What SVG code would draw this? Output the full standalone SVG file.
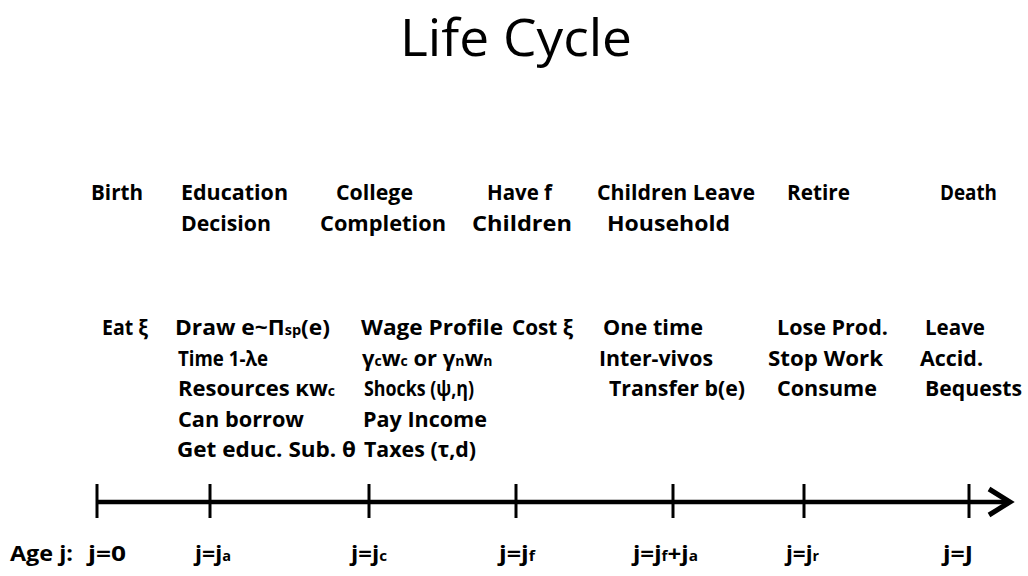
<svg xmlns="http://www.w3.org/2000/svg" width="1028" height="576" viewBox="0 0 1028 576">
<style>
text{font-family:"Open Sans","Liberation Sans",sans-serif;fill:#000}
.t{font-size:52px;font-weight:400}
.b{font-size:22px;font-weight:700}
.s{font-size:14px}
.ax{stroke:#000;fill:none;stroke-linecap:butt}
</style>
<rect width="1028" height="576" fill="#fff"/>
<g id="title"><text class="t" x="400" y="56" textLength="232" lengthAdjust="spacingAndGlyphs">Life Cycle</text></g>

<g id="connectors">
<line class="ax" x1="97" y1="502" x2="1008" y2="502" stroke-width="4.5"/>
<polyline class="ax" points="989,489 1010,502 989,515" stroke-width="5"/>
<g stroke-width="3" class="ax">
<line class="ax" x1="97" y1="484" x2="97" y2="518"/>
<line class="ax" x1="210" y1="484" x2="210" y2="518"/>
<line class="ax" x1="369" y1="484" x2="369" y2="518"/>
<line class="ax" x1="516" y1="484" x2="516" y2="518"/>
<line class="ax" x1="673" y1="484" x2="673" y2="518"/>
<line class="ax" x1="804" y1="484" x2="804" y2="518"/>
<line class="ax" x1="969" y1="484" x2="969" y2="518"/>
</g>
</g>

<g id="age-label"><text class="b" x="10" y="561" textLength="63" lengthAdjust="spacingAndGlyphs">Age j:</text></g>

<g id="birth">
<text class="b" x="91" y="200" textLength="52" lengthAdjust="spacingAndGlyphs">Birth</text>
<text class="b" x="102" y="335" textLength="46" lengthAdjust="spacingAndGlyphs">Eat ξ</text>
<text class="b" x="88" y="561" textLength="38" lengthAdjust="spacingAndGlyphs">j=0</text>
</g>

<g id="education">
<text class="b" x="181" y="200" textLength="107" lengthAdjust="spacingAndGlyphs">Education</text>
<text class="b" x="181" y="231" textLength="90" lengthAdjust="spacingAndGlyphs">Decision</text>
<text class="b" x="175" y="335" textLength="155" lengthAdjust="spacingAndGlyphs">Draw e~Π<tspan class="s">sp</tspan>(e)</text>
<text class="b" x="178" y="366" textLength="90" lengthAdjust="spacingAndGlyphs">Time 1-λe</text>
<text class="b" x="178" y="396" textLength="157" lengthAdjust="spacingAndGlyphs">Resources κw<tspan class="s">c</tspan></text>
<text class="b" x="178" y="427" textLength="126" lengthAdjust="spacingAndGlyphs">Can borrow</text>
<text class="b" x="177" y="457" textLength="179" lengthAdjust="spacingAndGlyphs">Get educ. Sub. θ</text>
<text class="b" x="195" y="561" textLength="36" lengthAdjust="spacingAndGlyphs">j=j<tspan class="s">a</tspan></text>
</g>

<g id="college">
<text class="b" x="336" y="200" textLength="77" lengthAdjust="spacingAndGlyphs">College</text>
<text class="b" x="320" y="231" textLength="126" lengthAdjust="spacingAndGlyphs">Completion</text>
<text class="b" x="361" y="335" textLength="142" lengthAdjust="spacingAndGlyphs">Wage Profile</text>
<text class="b" x="362" y="366">γ<tspan class="s">c</tspan>w<tspan class="s">c</tspan> or γ<tspan class="s">n</tspan>w<tspan class="s">n</tspan></text>
<text class="b" x="364" y="396" textLength="110" lengthAdjust="spacingAndGlyphs">Shocks (ψ,η)</text>
<text class="b" x="363" y="427" textLength="124" lengthAdjust="spacingAndGlyphs">Pay Income</text>
<text class="b" x="364" y="457" textLength="112" lengthAdjust="spacingAndGlyphs">Taxes (τ,d)</text>
<text class="b" x="351" y="561" textLength="36" lengthAdjust="spacingAndGlyphs">j=j<tspan class="s">c</tspan></text>
</g>

<g id="children">
<text class="b" x="487" y="200" textLength="65" lengthAdjust="spacingAndGlyphs">Have f</text>
<text class="b" x="472" y="231" textLength="100" lengthAdjust="spacingAndGlyphs">Children</text>
<text class="b" x="512" y="335" textLength="61" lengthAdjust="spacingAndGlyphs">Cost ξ</text>
<text class="b" x="499" y="561" textLength="36" lengthAdjust="spacingAndGlyphs">j=j<tspan class="s">f</tspan></text>
</g>

<g id="children-leave">
<text class="b" x="597" y="200" textLength="158" lengthAdjust="spacingAndGlyphs">Children Leave</text>
<text class="b" x="607" y="231" textLength="123" lengthAdjust="spacingAndGlyphs">Household</text>
<text class="b" x="603" y="335" textLength="100" lengthAdjust="spacingAndGlyphs">One time</text>
<text class="b" x="599" y="366" textLength="114" lengthAdjust="spacingAndGlyphs">Inter-vivos</text>
<text class="b" x="609" y="396" textLength="136" lengthAdjust="spacingAndGlyphs">Transfer b(e)</text>
<text class="b" x="633" y="561" textLength="65" lengthAdjust="spacingAndGlyphs">j=j<tspan class="s">f</tspan>+j<tspan class="s">a</tspan></text>
</g>

<g id="retire">
<text class="b" x="787" y="200" textLength="63" lengthAdjust="spacingAndGlyphs">Retire</text>
<text class="b" x="777" y="335" textLength="111" lengthAdjust="spacingAndGlyphs">Lose Prod.</text>
<text class="b" x="768" y="366" textLength="115" lengthAdjust="spacingAndGlyphs">Stop Work</text>
<text class="b" x="777" y="396" textLength="100" lengthAdjust="spacingAndGlyphs">Consume</text>
<text class="b" x="786" y="561" textLength="33" lengthAdjust="spacingAndGlyphs">j=j<tspan class="s">r</tspan></text>
</g>

<g id="death">
<text class="b" x="940" y="200" textLength="57" lengthAdjust="spacingAndGlyphs">Death</text>
<text class="b" x="925" y="335" textLength="60" lengthAdjust="spacingAndGlyphs">Leave</text>
<text class="b" x="920" y="366" textLength="63" lengthAdjust="spacingAndGlyphs">Accid.</text>
<text class="b" x="925" y="396" textLength="97" lengthAdjust="spacingAndGlyphs">Bequests</text>
<text class="b" x="943" y="561" textLength="30" lengthAdjust="spacingAndGlyphs">j=J</text>
</g>
</svg>
